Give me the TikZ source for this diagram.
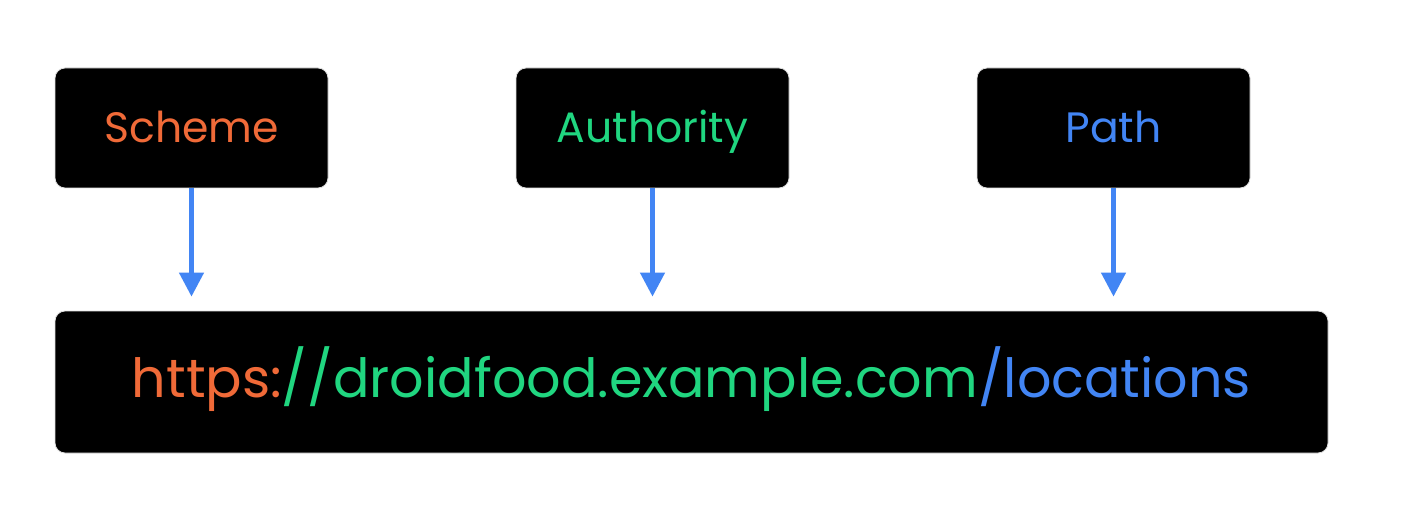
\documentclass[tikz,border=0pt]{standalone}
\usepackage{fontspec}
\setmainfont{Poppins}
\usetikzlibrary{arrows.meta,positioning}
\definecolor{schemeorange}{RGB}{240,106,56}
\definecolor{authgreen}{RGB}{32,214,128}
\definecolor{pathblue}{RGB}{66,133,244}
\tikzstyle{part}  = [rectangle, rounded corners=10pt, fill=black, draw=black!12, line width=0.8pt, minimum width=273pt, minimum height=120pt, inner sep=0pt, text height=30pt, text depth=0pt, font=\fontsize{42.5}{50}\selectfont]
\tikzstyle{uri}   = [rectangle, rounded corners=10pt, fill=black, draw=black!12, line width=0.8pt, minimum width=1273pt, minimum height=142pt, inner sep=0pt, text height=30pt, text depth=0pt, font=\fontsize{54}{64}\selectfont]
\tikzstyle{arrow} = [pathblue, line width=4.5pt, -{Triangle[width=24pt,length=24pt]}, shorten >=14pt]

\begin{document}
\begin{tikzpicture}[x=1pt,y=-1pt]
		\useasboundingbox[fill=white] (0,0) rectangle (1404,529);

		% the three parts
		\node[part, text=schemeorange] (scheme)    at (191.5,128)  {Scheme};
		\node[part, text=authgreen]    (authority) at (652.5,128)  {Authority};
		\node[part, text=pathblue]     (path)      at (1113.5,128) {Path};

		% the whole address
		\node[uri] (url) at (691.5,382) {{\color{schemeorange}https:}{\color{authgreen}//droidfood.example.com}{\color{pathblue}/locations}};

		\draw[arrow] (scheme.south)    -- (scheme.south |- url.north);
		\draw[arrow] (authority.south) -- (authority.south |- url.north);
		\draw[arrow] (path.south)      -- (path.south |- url.north);
	\end{tikzpicture}
\end{document}
